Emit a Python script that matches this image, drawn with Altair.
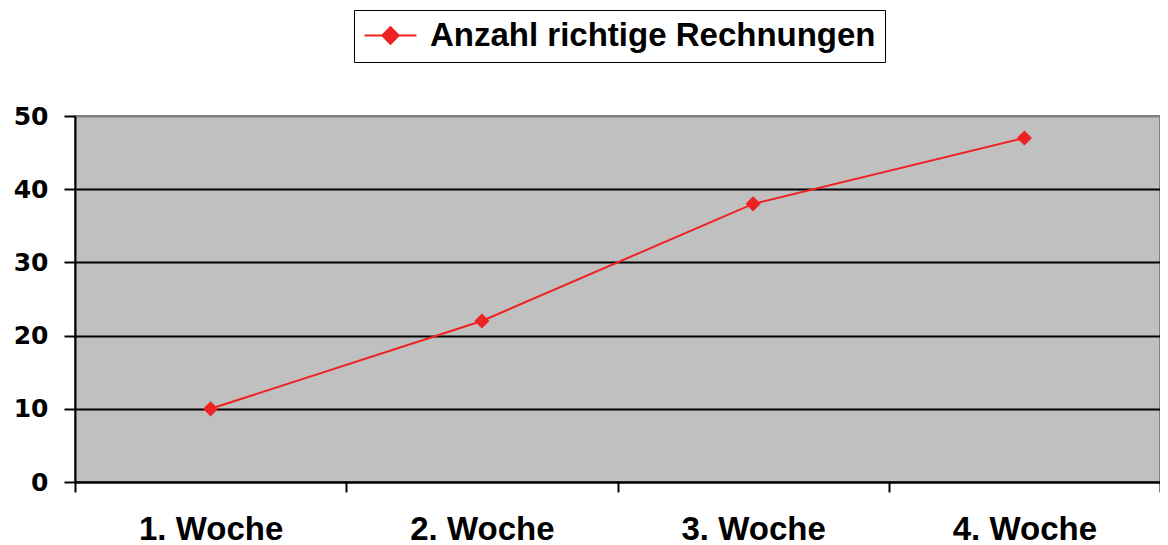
import altair as alt
import pandas as pd

weeks = ["1. Woche", "2. Woche", "3. Woche", "4. Woche"]
values = [10, 22, 38, 47]
series_name = "Anzahl richtige Rechnungen"
y_ticks = [0, 10, 20, 30, 40, 50]

df = pd.DataFrame({"Woche": weeks, "Wert": values, "Serie": [series_name] * len(weeks)})

RED = "#EE2222"

x_enc = alt.X(
    "Woche:N",
    sort=weeks,
    scale=alt.Scale(type="band", paddingInner=0, paddingOuter=0),
    axis=alt.Axis(
        title=None,
        labelAngle=0,
        labelFont="Liberation Sans",
        labelFontWeight="bold",
        labelFontSize=33,
        labelColor="black",
        labelBaseline="alphabetic",
        labelPadding=47,
        tickBand="extent",
        tickSize=10,
        tickWidth=2,
        tickColor="black",
        domainColor="black",
        domainWidth=2,
        grid=False,
    ),
)

y_enc = alt.Y(
    "Wert:Q",
    scale=alt.Scale(domain=[0, 50], nice=False),
    axis=alt.Axis(
        title=None,
        values=y_ticks,
        labelFont="DejaVu Sans",
        labelFontWeight="bold",
        labelFontSize=25,
        labelColor="black",
        labelPadding=16,
        tickSize=11,
        tickWidth=2,
        tickColor="black",
        domainColor="black",
        domainWidth=2,
        grid=True,
        gridColor={"condition": {"test": "datum.value == 50", "value": "#808080"}, "value": "black"},
        gridWidth=2,
        gridOpacity=1,
    ),
)

color_enc = alt.Color(
    "Serie:N",
    scale=alt.Scale(domain=[series_name], range=[RED]),
    legend=alt.Legend(
        title=None,
        orient="none",
        legendX=279,
        legendY=-106,
        symbolType="M-1.73,0H1.73M-0.55,0L0,-0.55L0.55,0L0,0.55Z",
        symbolSize=900,
        symbolOffset=11,
        symbolStrokeWidth=2,
        symbolFillColor=RED,
        symbolStrokeColor=RED,
        labelFont="Liberation Sans",
        labelFontWeight="bold",
        labelFontSize=33,
        labelColor="black",
        labelOffset=23,
        labelLimit=0,
        strokeColor="black",
        padding=9,
    ),
)

base = alt.Chart(df).encode(x=x_enc, y=y_enc, color=color_enc)

line = base.mark_line(strokeWidth=2)
points = base.mark_point(shape="diamond", filled=True, size=230, opacity=1)

chart = (
    alt.layer(line, points)
    .properties(
        width=1085,
        height=366,
        autosize=alt.AutoSizeParams(type="none"),
        padding={"left": 67, "top": 108, "right": 0, "bottom": 62},
        background="white",
    )
    .configure_view(fill="#C0C0C0", stroke="#808080", strokeWidth=2)
)

chart.save("out.html", embed_options={"renderer": "svg", "actions": False})
